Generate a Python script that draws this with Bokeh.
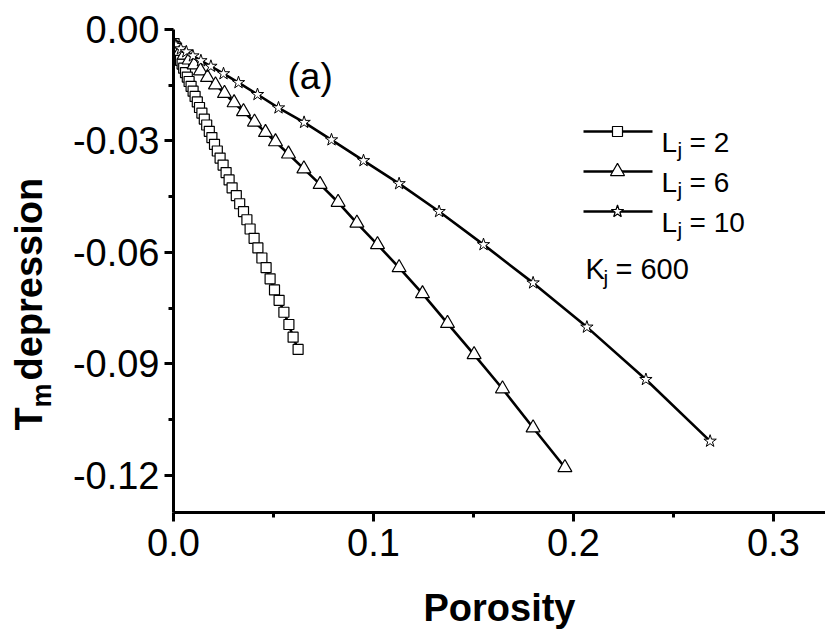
import math
from bokeh.plotting import figure
from bokeh.layouts import row
from bokeh.models import Range1d, Label, FixedTicker, NumeralTickFormatter
from bokeh.core.properties import value
from bokeh.embed import file_html
from bokeh.resources import INLINE

# ---------------- data ----------------
por_L2 = [0.0003, 0.0008, 0.0014, 0.0021, 0.0028, 0.0035, 0.0043, 0.0051, 0.0060, 0.0069,
          0.0078, 0.0088, 0.0098, 0.0108, 0.0119, 0.0130, 0.0142, 0.0154, 0.0166, 0.0179,
          0.0192, 0.0205, 0.0219, 0.0233, 0.0248, 0.0263, 0.0278, 0.0293, 0.0314, 0.0331,
          0.0350, 0.0367, 0.0383, 0.0403, 0.0422, 0.0442, 0.0463, 0.0483, 0.0505, 0.0528,
          0.0552, 0.0577, 0.0598, 0.0623]
tm_L2 = [-0.0038, -0.0046, -0.0055, -0.0064, -0.0073, -0.0083, -0.0093, -0.0104, -0.0116, -0.0128,
         -0.0140, -0.0153, -0.0166, -0.0180, -0.0195, -0.0210, -0.0225, -0.0241, -0.0257, -0.0274,
         -0.0291, -0.0309, -0.0327, -0.0346, -0.0365, -0.0385, -0.0405, -0.0426, -0.0447, -0.0469,
         -0.0490, -0.0512, -0.0537, -0.0562, -0.0588, -0.0615, -0.0641, -0.0671, -0.0701, -0.0729,
         -0.0761, -0.0794, -0.0828, -0.0861]

por_L6 = [0.0017, 0.0033, 0.0053, 0.0078, 0.0103, 0.0135, 0.0170, 0.0210, 0.0255, 0.0303,
          0.0350, 0.0405, 0.0460, 0.0510, 0.0575, 0.0652, 0.0733, 0.0823, 0.0917, 0.1020,
          0.1128, 0.1245, 0.1370, 0.1503, 0.1645, 0.1798, 0.1957]
tm_L6 = [-0.0051, -0.0059, -0.0069, -0.0082, -0.0095, -0.0111, -0.0129, -0.0149, -0.0172, -0.0197,
         -0.0221, -0.0249, -0.0277, -0.0302, -0.0335, -0.0375, -0.0417, -0.0465, -0.0521, -0.0579,
         -0.0641, -0.0711, -0.0791, -0.0875, -0.0967, -0.1072, -0.1179]

por_L10 = [0.0012, 0.0037, 0.0064, 0.0097, 0.0137, 0.0187, 0.0250, 0.0325, 0.0420, 0.0525,
           0.0653, 0.0790, 0.0950, 0.1128, 0.1328, 0.1550, 0.1798, 0.2067, 0.2362, 0.2683]
tm_L10 = [-0.0043, -0.0052, -0.0060, -0.0071, -0.0084, -0.0099, -0.0119, -0.0143, -0.0175, -0.0211,
          -0.0250, -0.0297, -0.0353, -0.0415, -0.0490, -0.0579, -0.0682, -0.0801, -0.0942, -0.1108]

x_ticks = [0.0, 0.1, 0.2, 0.3]
x_minor = [0.05, 0.15, 0.25]
y_ticks = [0.0, -0.03, -0.06, -0.09, -0.12]
y_minor = [-0.015, -0.045, -0.075, -0.105]
legend_labels = ["2", "6", "10"]
kj_value = "600"
panel_tag = "(a)"
x_title = "Porosity"
y_title_main, y_title_sub, y_title_rest = "T", "m", "depression"

# ---------------- geometry (page has no margin) ----------------
FONT = "Liberation Sans"
H = 633
SW = 62                      # width of the strip holding the rotated y title
W = 825 - SW
BL, BT = 173 - SW, 29
FW, FH = 652, 483
BB = H - BT - FH
XMIN, XMAX = 0.0, FW / 2000.0
YMIN, YMAX = -0.130, 0.0
FRAME_LEFT = SW + BL
FRAME_TOP = BT

def dx(px):   # page pixel x -> data x
    return XMIN + (px - FRAME_LEFT) / FW * (XMAX - XMIN)

def dy(py):   # page pixel y -> data y
    return YMAX - (py - FRAME_TOP) / FH * (YMAX - YMIN)

# ---------------- strip with the y title ----------------
# the row aligns this strip's frame with the main frame (rows BT .. BT+FH)
strip = figure(width=SW, height=H, output_backend="svg", toolbar_location=None,
               x_range=Range1d(0, SW), y_range=Range1d(H - (BT + FH), H - BT),
               x_axis_type=None, y_axis_type=None,
               min_border_left=0, min_border_right=0, min_border_top=BT, min_border_bottom=BB)
strip.outline_line_color = None
strip.background_fill_color = "white"
strip.border_fill_color = "white"

def sy(py):
    return H - py

ang = math.pi / 2
strip.text(x=[28], y=[sy(430)], text=[y_title_main], angle=ang,
           text_font=value(FONT), text_font_style="bold", text_font_size="38px",
           text_baseline="alphabetic", text_align="left", text_color="black")
strip.text(x=[41], y=[sy(407)], text=[y_title_sub], angle=ang,
           text_font=value(FONT), text_font_style="bold", text_font_size="27px",
           text_baseline="alphabetic", text_align="left", text_color="black")
strip.text(x=[28], y=[sy(380)], text=[y_title_rest], angle=ang,
           text_font=value(FONT), text_font_style="bold", text_font_size="38px",
           text_baseline="alphabetic", text_align="left", text_color="black")

# ---------------- main plot ----------------
p = figure(width=W, height=H, output_backend="svg", toolbar_location=None,
           x_range=Range1d(XMIN, XMAX), y_range=Range1d(YMIN, YMAX),
           min_border_left=BL, min_border_right=0, min_border_top=BT, min_border_bottom=BB,
           frame_width=FW, frame_height=FH)
p.outline_line_color = None
p.grid.visible = False
p.background_fill_color = "white"
p.border_fill_color = "white"

for ax in (p.xaxis[0], p.yaxis[0]):
    ax.axis_line_width = 3
    ax.axis_line_color = "black"
    ax.major_tick_line_width = 3
    ax.minor_tick_line_width = 3
    ax.major_tick_line_color = "black"
    ax.minor_tick_line_color = "black"
    ax.major_tick_out = 9
    ax.major_tick_in = 0
    ax.minor_tick_out = 5
    ax.minor_tick_in = 0
    ax.major_label_text_font = FONT
    ax.major_label_text_font_size = "38px"
    ax.major_label_text_color = "black"

p.xaxis[0].ticker = FixedTicker(ticks=x_ticks, minor_ticks=x_minor)
p.yaxis[0].ticker = FixedTicker(ticks=y_ticks, minor_ticks=y_minor)
p.xaxis[0].formatter = NumeralTickFormatter(format="0.0")
p.yaxis[0].formatter = NumeralTickFormatter(format="0.00")
p.xaxis[0].major_label_standoff = 7
p.yaxis[0].major_label_standoff = 5

p.xaxis[0].axis_label = x_title
p.xaxis[0].axis_label_text_font = FONT
p.xaxis[0].axis_label_text_font_style = "bold"
p.xaxis[0].axis_label_text_font_size = "38px"
p.xaxis[0].axis_label_text_color = "black"
p.xaxis[0].axis_label_standoff = 28

# ---------------- series ----------------
LW = 2.6
p.line(por_L2, tm_L2, line_color="black", line_width=LW)
p.line(por_L6, tm_L6, line_color="black", line_width=LW)
p.line(por_L10, tm_L10, line_color="black", line_width=LW)
p.scatter(por_L2, tm_L2, marker="square", size=10, fill_color="white", line_color="black", line_width=1.2)
p.scatter(por_L6, tm_L6, marker="triangle", size=14, fill_color="white", line_color="black", line_width=1.2)
p.scatter(por_L10, tm_L10, marker="star", size=13, fill_color="white", line_color="black", line_width=1.0)

# ---------------- legend (hand built) ----------------
def txt(px, py, s, size):
    p.add_layout(Label(x=dx(px), y=dy(py), text=s, text_font=FONT, text_color="black",
                       text_font_size=size, text_baseline="alphabetic", text_align="left"))

leg_rows = [131, 171, 211]
markers = [("square", 10), ("triangle", 14), ("star", 13)]
for (mk, sz), rw, lab in zip(markers, leg_rows, legend_labels):
    p.line([dx(583), dx(652)], [dy(rw), dy(rw)], line_color="black", line_width=LW)
    p.scatter([dx(617)], [dy(rw)], marker=mk, size=sz, fill_color="white",
              line_color="black", line_width=1.2)
    txt(661, rw + 11, "L", "28px")
    txt(677, rw + 18, "j", "21px")
    txt(689, rw + 11, "= " + lab, "28px")

txt(585, 268, "K", "29px")
txt(603, 277, "j", "21px")
txt(615, 268, "= " + kj_value, "29px")

txt(287, 76, panel_tag, "37px")

layout = row(strip, p, spacing=0)
open("out.html", "w").write(file_html(layout, INLINE))
